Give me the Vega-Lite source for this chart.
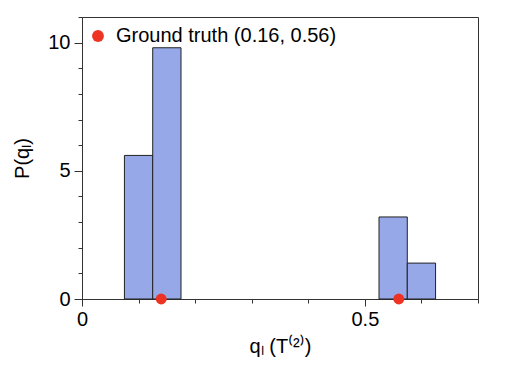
{
  "$schema": "https://vega.github.io/schema/vega-lite/v6.json",
  "width": 396,
  "height": 282,
  "autosize": "none",
  "padding": {"left": 82, "top": 17, "right": 30, "bottom": 66},
  "background": "white",
  "config": {
    "font": "Liberation Sans",
    "view": {"stroke": "#333", "strokeWidth": 1},
    "axis": {
      "labelFont": "Liberation Sans",
      "titleFont": "Liberation Sans",
      "labelFontSize": 20,
      "titleFontSize": 20,
      "titleFontWeight": "normal",
      "labelColor": "black",
      "titleColor": "black",
      "domainColor": "#333",
      "tickColor": "#333",
      "labelOverlap": false,
      "labelFlush": false,
      "grid": false
    }
  },
  "resolve": {"axis": {"x": "independent", "y": "independent"}},
  "datasets": {
    "bars": [
      {"x0": 0.075, "x1": 0.125, "p": 5.6},
      {"x0": 0.125, "x1": 0.175, "p": 9.8},
      {"x0": 0.525, "x1": 0.575, "p": 3.2},
      {"x0": 0.575, "x1": 0.625, "p": 1.4}
    ],
    "truth": [
      {"q": 0.14, "p": 0, "series": "Ground truth (0.16, 0.56)"},
      {"q": 0.56, "p": 0, "series": "Ground truth (0.16, 0.56)"}
    ]
  },
  "layer": [
    {
      "data": {"name": "bars"},
      "mark": {"type": "bar", "fill": "#97a8e8", "stroke": "#222", "strokeWidth": 1},
      "encoding": {
        "x": {
          "field": "x0", "type": "quantitative",
          "scale": {"domain": [0, 0.7], "nice": false, "zero": false},
          "axis": {
            "orient": "bottom",
            "title": "qₗ (T⁽²⁾)",
            "values": [0, 0.5],
            "format": "~g",
            "tickSize": 7,
            "labelPadding": 3,
            "titlePadding": 7
          }
        },
        "x2": {"field": "x1"},
        "y": {
          "field": "p", "type": "quantitative",
          "scale": {"domain": [0, 11], "nice": false},
          "axis": {
            "orient": "left",
            "title": "P(qₗ)",
            "values": [0, 5, 10],
            "tickSize": 8,
            "labelPadding": 4,
            "titlePadding": 15
          }
        },
        "y2": {"datum": 0}
      }
    },
    {
      "data": {"name": "truth"},
      "mark": {"type": "point", "filled": true, "opacity": 1, "size": 120},
      "encoding": {
        "x": {
          "field": "q", "type": "quantitative",
          "axis": {
            "orient": "bottom",
            "title": null,
            "labels": false,
            "domain": false,
            "values": [0, 0.1, 0.2, 0.3, 0.4, 0.5, 0.6, 0.7],
            "tickSize": 4
          }
        },
        "y": {
          "field": "p", "type": "quantitative",
          "axis": {
            "orient": "left",
            "title": null,
            "labels": false,
            "domain": false,
            "values": [0, 1, 2, 3, 4, 5, 6, 7, 8, 9, 10, 11],
            "tickSize": 4
          }
        },
        "color": {
          "field": "series", "type": "nominal",
          "scale": {"range": ["#ee3322"]},
          "legend": {
            "title": null,
            "orient": "top-left",
            "offset": 9,
            "padding": 0,
            "symbolType": "circle",
            "symbolSize": 140,
            "symbolOpacity": 1,
            "symbolOffset": -3,
            "labelFont": "Liberation Sans",
            "labelFontSize": 20,
            "labelColor": "black",
            "labelOffset": 8,
            "labelLimit": 0
          }
        }
      }
    }
  ]
}
